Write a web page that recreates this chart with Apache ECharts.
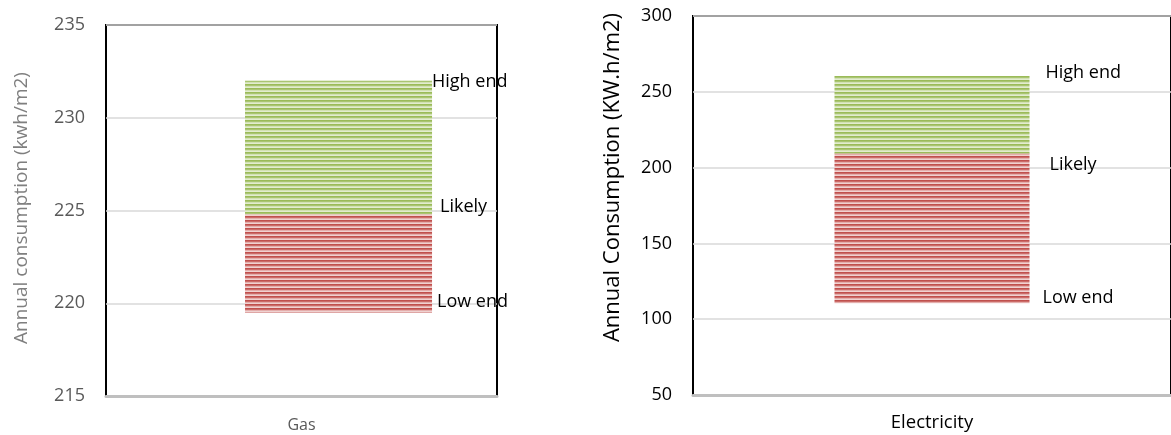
<!DOCTYPE html>
<html>
<head>
<meta charset="utf-8">
<script src="https://cdn.jsdelivr.net/npm/echarts@6/dist/echarts.min.js"></script>
<style>
  html, body { margin: 0; padding: 0; background: #fff; }
  #chart { width: 1171px; height: 435px; }
</style>
</head>
<body>
<div id="chart"></div>
<script>
// Gas consumption range (kWh/m2)
const gasCategories = ['Gas'];
const gasLow = [219.5];
const gasLikely = [224.8];
const gasHigh = [232];
const gasTicks = [215, 220, 225, 230, 235];

// Electricity consumption range (kW.h/m2)
const elecCategories = ['Electricity'];
const elecLow = [110.5];
const elecLikely = [209.3];
const elecHigh = [260.4];
const elecTicks = [50, 100, 150, 200, 250, 300];

const labelNames = ['Low end', 'Likely', 'High end'];

// horizontal stripe fill
function stripes(colors) {
  const c = document.createElement('canvas');
  c.width = 4;
  c.height = colors.length;
  const ctx = c.getContext('2d');
  colors.forEach((col, i) => { ctx.fillStyle = col; ctx.fillRect(0, i, 4, 1); });
  return { image: c, repeat: 'repeat' };
}
const greenFill = stripes(['#9bbb59', '#a9c572', '#d2e1b3', '#e2ecd0']);
const redFill = stripes(['#c0504d', '#cb6c69', '#e4aeac', '#f0d2d1']);

const FONT = 'Open Sans';
const diff = (a, b) => a.map((v, i) => +(v - b[i]).toFixed(2));

function bandLabel(text, offset) {
  return {
    show: true, formatter: text, position: ['100%', 0], offset: offset,
    align: 'left', verticalAlign: 'middle',
    color: '#000', fontFamily: FONT, fontSize: 18
  };
}

function rangeSeries(axisIdx, low, likely, high, barWidth, offs) {
  return [
    { type: 'bar', xAxisIndex: axisIdx, yAxisIndex: axisIdx, stack: 'r' + axisIdx,
      barWidth: barWidth, data: low, itemStyle: { color: 'transparent' },
      label: bandLabel(labelNames[0], offs[0]), silent: true },
    { type: 'bar', xAxisIndex: axisIdx, yAxisIndex: axisIdx, stack: 'r' + axisIdx,
      barWidth: barWidth, data: diff(likely, low), itemStyle: { color: redFill },
      label: bandLabel(labelNames[1], offs[1]) },
    { type: 'bar', xAxisIndex: axisIdx, yAxisIndex: axisIdx, stack: 'r' + axisIdx,
      barWidth: barWidth, data: diff(high, likely), itemStyle: { color: greenFill },
      label: bandLabel(labelNames[2], offs[2]) }
  ];
}

function yAxis(idx, ticks, name, tickColor, nameColor, nameSize, nameGap, namePad) {
  return {
    type: 'value', gridIndex: idx,
    min: ticks[0], max: ticks[ticks.length - 1], interval: ticks[1] - ticks[0],
    name: name, nameLocation: 'middle', nameRotate: 90, nameGap: nameGap,
    nameTextStyle: { color: nameColor, fontFamily: FONT, fontSize: nameSize, padding: namePad },
    axisLine: { show: false }, axisTick: { show: false },
    axisLabel: { color: tickColor, fontFamily: FONT, fontSize: 18, margin: 21 },
    splitLine: { lineStyle: { color: '#d9d9d9', width: 1.5 } }
  };
}

function xAxis(idx, cats, color, size, margin) {
  return {
    type: 'category', gridIndex: idx, data: cats,
    axisLine: { lineStyle: { color: '#bfbfbf', width: 3 } },
    axisTick: { show: false },
    axisLabel: { color: color, fontFamily: FONT, fontSize: size, margin: margin }
  };
}

const series = [].concat(
  // spacer group shifts the gas range to the right of its category centre
  [{ type: 'bar', xAxisIndex: 0, yAxisIndex: 0, stack: 'pad', barWidth: 187,
     barGap: '-60.4%', data: ['-'], silent: true }],
  rangeSeries(0, gasLow, gasLikely, gasHigh, 187, [[5, -11], [8, -7], [0, 1]]),
  rangeSeries(1, elecLow, elecLikely, elecHigh, 195, [[13, -5], [20, 11], [16, -3]])
);
series[1].barGap = '-60.4%';

const chart = echarts.init(document.getElementById('chart'), null, { renderer: 'canvas' });
chart.setOption({
  animation: false,
  backgroundColor: '#fff',
  grid: [
    { left: 106, top: 25, width: 391, height: 371, show: true,
      borderColor: '#000', borderWidth: 2, backgroundColor: 'transparent' },
    { left: 693, top: 16, width: 483, height: 379, show: true,
      borderColor: '#000', borderWidth: 2, backgroundColor: 'transparent' }
  ],
  xAxis: [xAxis(0, gasCategories, '#595959', 16, 21), xAxis(1, elecCategories, '#000', 18.5, 18)],
  yAxis: [
    yAxis(0, gasTicks, 'Annual consumption (kwh/m2)', '#595959', '#7f7f7f', 19, 75, [0, 0, 0, 5]),
    yAxis(1, elecTicks, 'Annual Consumption (KW.h/m2)', '#000', '#000', 22, 69, [0, 0, 0, 56])
  ],
  series: series
});
</script>
</body>
</html>
